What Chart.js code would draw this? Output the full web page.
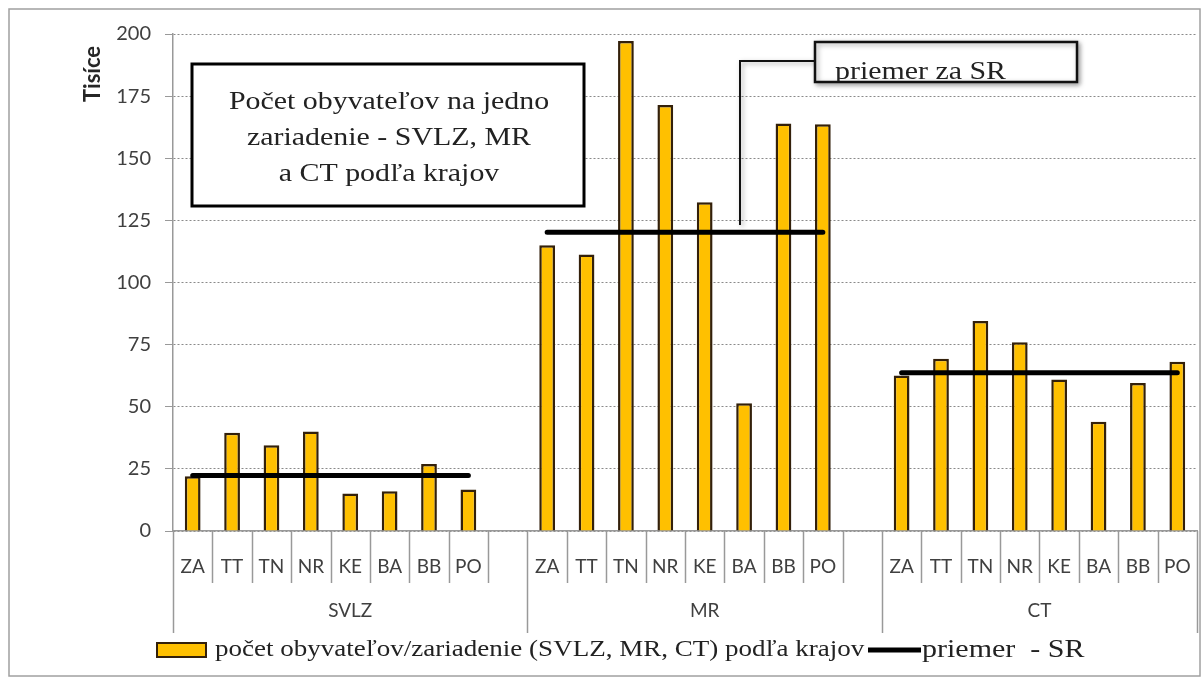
<!DOCTYPE html>
<html>
<head>
<meta charset="utf-8">
<script src="https://cdn.jsdelivr.net/npm/chart.js@4.4.1/dist/chart.umd.min.js"></script>
<style>
  html, body { margin: 0; padding: 0; background: #fff; }
  #wrap { width: 1203px; height: 680px; position: relative; }
</style>
</head>
<body>
<div id="wrap"><canvas id="c" width="1203" height="680"></canvas></div>
<script>
// kraje a skupiny zariadení
const regions = ['ZA', 'TT', 'TN', 'NR', 'KE', 'BA', 'BB', 'PO'];
const groups  = ['SVLZ', 'MR', 'CT'];

// počet obyvateľov na jedno zariadenie (tisíce)
const svlzVals = [22, 39.5, 34.5, 40, 15.1, 16, 27, 16.7];
const mrVals   = [115, 111.3, 197.2, 171.4, 132.3, 51.4, 164, 163.7];
const ctVals   = [62.6, 69.3, 84.5, 76, 61, 44, 59.6, 68.1];

// priemer za SR pre každú skupinu
const avgSR = [22.3, 120.2, 63.7];

const yTicks = [0, 25, 50, 75, 100, 125, 150, 175, 200];

const SANS  = 'Lato, "Open Sans", sans-serif';
const SERIF = '"Liberation Serif", "DejaVu Serif", serif';
const STRETCH = 1.15; // text v obrázku je vodorovne roztiahnutý

// poskladanie kategórií: za SVLZ a MR je prázdny slot
const groupVals = [svlzVals, mrVals, ctVals];
const labels = [], barData = [], lineData = [], groupOf = [];
groupVals.forEach((vals, g) => {
  regions.forEach((r, i) => {
    labels.push(r);
    barData.push(vals[i]);
    lineData.push(avgSR[g]);
    groupOf.push(g);
  });
  if (g < groupVals.length - 1) {
    labels.push('');
    barData.push(null);
    lineData.push(null);
    groupOf.push(g);
  }
});

function wideText(ctx, text, x, y, k = STRETCH) {
  ctx.save();
  ctx.translate(x, y);
  ctx.scale(k, 1);
  ctx.fillText(text, 0, 0);
  ctx.restore();
}

const decor = {
  id: 'decor',
  afterDraw(chart) {
    const { ctx, chartArea: a, scales: { x } } = chart;
    const half = (x.getPixelForValue(1) - x.getPixelForValue(0)) / 2;
    ctx.save();

    // oddeľovače kategórií pod osou
    ctx.strokeStyle = '#999';
    ctx.lineWidth = 1.5;
    for (let i = 0; i <= labels.length; i++) {
      const px = Math.round((i < labels.length ? x.getPixelForValue(i) - half : x.getPixelForValue(i - 1) + half)) + 0.5;
      const isGroupEdge = i === 0 || i === labels.length || groupOf[i] !== groupOf[i - 1];
      ctx.beginPath();
      ctx.moveTo(px, a.bottom);
      ctx.lineTo(px, isGroupEdge ? 633 : 583);
      ctx.stroke();
    }

    // názvy skupín
    ctx.fillStyle = '#404040';
    ctx.font = '19px ' + SANS;
    ctx.textAlign = 'center';
    ctx.textBaseline = 'middle';
    groups.forEach((g, gi) => {
      const idx = groupOf.map((v, i) => v === gi ? i : -1).filter(i => i >= 0);
      const x0 = x.getPixelForValue(idx[0]) - half;
      const x1 = x.getPixelForValue(idx[idx.length - 1]) + half;
      ctx.fillText(g, (x0 + x1) / 2, 611);
    });

    // nadpis osi Y
    ctx.save();
    ctx.translate(93, 74);
    ctx.rotate(-Math.PI / 2);
    ctx.font = 'bold 22px ' + SANS;
    ctx.fillStyle = '#262626';
    ctx.fillText('Tisíce', 0, 0);
    ctx.restore();

    // rámček s nadpisom grafu
    ctx.fillStyle = '#fff';
    ctx.fillRect(192, 64, 392, 142);
    ctx.strokeStyle = '#000';
    ctx.lineWidth = 3;
    ctx.strokeRect(192, 64, 392, 142);
    ctx.fillStyle = '#222';
    ctx.font = '26px ' + SERIF;
    wideText(ctx, 'Počet obyvateľov na jedno', 389, 102);
    wideText(ctx, 'zariadenie - SVLZ, MR', 389, 138);
    wideText(ctx, 'a CT podľa krajov', 389, 174);

    // popis priemeru s odkazovou čiarou
    ctx.save();
    ctx.shadowColor = 'rgba(0,0,0,0.35)';
    ctx.shadowBlur = 5;
    ctx.shadowOffsetX = 2;
    ctx.shadowOffsetY = 2;
    ctx.strokeStyle = '#111';
    ctx.lineWidth = 2;
    ctx.beginPath();
    ctx.moveTo(815, 61);
    ctx.lineTo(740, 61);
    ctx.lineTo(740, 225);
    ctx.stroke();
    ctx.fillStyle = '#fff';
    ctx.fillRect(815, 42, 262, 40);
    ctx.lineWidth = 2.5;
    ctx.strokeRect(815, 42, 262, 40);
    ctx.restore();
    ctx.save();
    ctx.beginPath();
    ctx.rect(815, 42, 262, 39);
    ctx.clip();
    ctx.fillStyle = '#222';
    ctx.font = '26px ' + SERIF;
    ctx.textAlign = 'left';
    ctx.textBaseline = 'alphabetic';
    wideText(ctx, 'priemer za SR', 835, 79);
    ctx.restore();

    // legenda
    const ds = chart.data.datasets;
    ctx.fillStyle = ds[1].backgroundColor;
    ctx.strokeStyle = ds[1].borderColor;
    ctx.lineWidth = 2;
    ctx.fillRect(157, 643, 49, 14);
    ctx.strokeRect(157, 643, 49, 14);
    ctx.fillStyle = '#222';
    ctx.font = '23.5px ' + SERIF;
    ctx.textAlign = 'left';
    ctx.textBaseline = 'middle';
    wideText(ctx, ds[1].label, 215, 650);
    ctx.strokeStyle = '#000';
    ctx.lineWidth = 5;
    ctx.beginPath();
    ctx.moveTo(868, 650);
    ctx.lineTo(921, 650);
    ctx.stroke();
    ctx.font = '25px ' + SERIF;
    wideText(ctx, ds[0].label, 922, 650, 1.2);

    // vonkajší rámček
    ctx.strokeStyle = '#a0a0a0';
    ctx.lineWidth = 1.5;
    ctx.strokeRect(9, 9, 1191, 667);
    ctx.restore();
  }
};

new Chart(document.getElementById('c'), {
  type: 'bar',
  data: {
    labels,
    datasets: [
      {
        type: 'line',
        label: 'priemer  - SR',
        data: lineData,
        borderColor: '#000',
        borderWidth: 5,
        borderCapStyle: 'round',
        pointRadius: 0,
        spanGaps: false,
        order: 0
      },
      {
        label: 'počet obyvateľov/zariadenie (SVLZ, MR, CT) podľa krajov',
        data: barData,
        backgroundColor: '#FFC000',
        borderColor: '#33200a',
        borderWidth: 2.5,
        borderSkipped: 'bottom',
        barPercentage: 0.4,
        categoryPercentage: 1,
        order: 1
      }
    ]
  },
  options: {
    responsive: false,
    animation: false,
    layout: { padding: { left: 0, right: 6, top: 34, bottom: 0 } },
    plugins: {
      legend: { display: false },
      tooltip: { enabled: false }
    },
    scales: {
      x: {
        afterFit: s => { s.height = 149; s.paddingLeft = 0; s.paddingRight = 0; },
        grid: { display: false },
        border: { color: '#999', width: 1.5 },
        ticks: {
          color: '#404040',
          font: { size: 19, family: SANS },
          padding: 16,
          maxRotation: 0,
          autoSkip: false
        }
      },
      y: {
        min: 0,
        max: 200,
        afterFit: s => { s.width = 173; },
        afterBuildTicks: s => { s.ticks = yTicks.map(v => ({ value: v })); },
        grid: {
          color: '#8a8a8a',
          lineWidth: 1,
          tickLength: 8,
          tickColor: '#999',
          tickBorderDash: []
        },
        border: { color: '#999', width: 1.5, dash: [2, 2] },
        ticks: {
          color: '#404040',
          font: { size: 20, family: SANS },
          padding: 14
        }
      }
    }
  },
  plugins: [decor]
});
</script>
</body>
</html>
